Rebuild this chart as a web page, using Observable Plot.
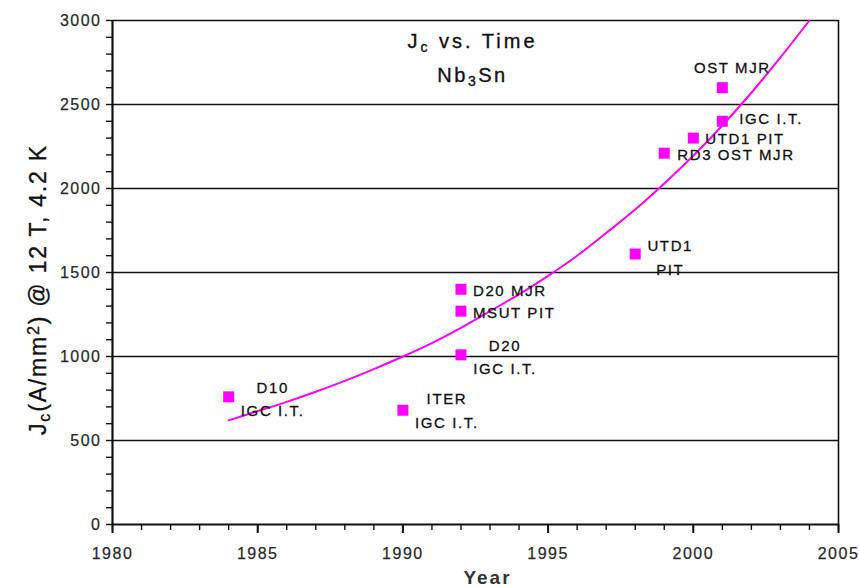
<!DOCTYPE html>
<html><head><meta charset="utf-8">
<script src="https://cdn.jsdelivr.net/npm/d3@7"></script>
<script src="https://cdn.jsdelivr.net/npm/@observablehq/plot@0.6"></script>
<style>body{margin:0;background:#fff;} svg{display:block;}</style>
</head><body><div id="chart"></div>
<script>
// Data
const years = [1984, 1990, 1992, 1992, 1992, 1998, 1999, 2000, 2001, 2001];
const jc = [760, 680, 1400, 1270, 1010, 1610, 2210, 2300, 2400, 2600];
const names = ["D10\nIGC I.T.", "ITER\nIGC I.T.", "D20 MJR", "MSUT PIT", "D20\nIGC I.T.", "UTD1\nPIT", "RD3 OST MJR", "UTD1 PIT", "IGC I.T.", "OST MJR"];
const trendYears = [1984,1985,1986,1987,1988,1989,1990,1991,1992,1993,1994,1995,1996,1997,1998,1999,2000,2001,2002,2003,2004];
const trendJc = [620,675,730,790,855,925,1000,1080,1170,1270,1370,1480,1600,1735,1875,2030,2195,2375,2570,2780,3000];
const xTicks = [1980, 1985, 1990, 1995, 2000, 2005];
const yTicks = [0, 500, 1000, 1500, 2000, 2500, 3000];
const gridLines = [500, 1000, 1500, 2000, 2500, 3000];
const titleText = "Jc vs. Time";
const subtitleText = "Nb3Sn";
const yLabelText = "Jc(A/mm2) @ 12 T, 4.2 K";
const xLabelText = "Year";

// Label layout (pixel offsets from each point), kept apart from the data
const labelDx = [44, 44, 12, 12, 44, 35, 13, 12, 17, 10];
const labelDy = [0, -2, -1, -1, 0, 1, -1, -2, -5, -22];
const labelAnchor = ["middle", "middle", "start", "start", "middle", "middle", "start", "start", "start", "middle"];

const points = years.map((y, i) => ({year: y, jc: jc[i], name: names[i], dx: labelDx[i], dy: labelDy[i], anchor: labelAnchor[i]}));
const trend = trendYears.map((y, i) => ({year: y, jc: trendJc[i]}));

const minorX = d3.range(1980, 2006, 1);
const minorY = d3.range(0, 3001, 100);
const font = "Liberation Sans, Arial, sans-serif";
const ink = "#111";

const plot = Plot.plot({
  width: 859, height: 587,
  marginLeft: 112, marginRight: 21, marginTop: 20, marginBottom: 63,
  style: {fontFamily: font, background: "#fff", color: ink},
  x: {domain: [1980, 2005]},
  y: {domain: [0, 3000]},
  marks: [
    Plot.ruleY(gridLines, {stroke: "#111", strokeWidth: 1.6}),
    Plot.ruleX([2005], {stroke: "#111", strokeWidth: 1.6}),
    Plot.axisY(minorY, {tickSize: 6, tickFormat: () => "", label: null, stroke: "#111", strokeWidth: 1.4}),
    Plot.axisY(yTicks, {tickSize: 6, tickPadding: 5, fontSize: 16, fill: "#2a2a2a", label: null, tickFormat: d => String(d)}),
    Plot.axisX(minorX, {tickSize: 6, tickFormat: () => "", label: null, stroke: "#111", strokeWidth: 1.4}),
    Plot.axisX(xTicks, {tickSize: 9, tickPadding: 14, fontSize: 16, fill: "#2a2a2a", label: null, tickFormat: d => String(d), strokeWidth: 2}),
    Plot.ruleX([1980], {stroke: "#111", strokeWidth: 2.2}),
    Plot.ruleY([0], {stroke: "#111", strokeWidth: 2.2}),
    Plot.line(trend, {x: "year", y: "jc", stroke: "#ff00ff", strokeWidth: 2, curve: "natural"}),
    Plot.dot(points, {x: "year", y: "jc", symbol: "square", r: 6.2, fill: "#ff00ff", stroke: "none"}),
    ...points.map(p => Plot.text([p], {
      x: "year", y: "jc", text: "name", textAnchor: p.anchor, lineAnchor: "middle",
      dx: p.dx, dy: p.dy, lineHeight: 1.6, fontSize: 15, fill: ink
    })),
    Plot.text([titleText], {frameAnchor: "top", text: d => d, dx: -3, dy: 21, fontSize: 20, fill: ink, lineAnchor: "middle"}),
    Plot.text([subtitleText], {frameAnchor: "top", text: d => d, dx: -3, dy: 55, fontSize: 20, fill: ink, lineAnchor: "middle"}),
    Plot.text([yLabelText], {frameAnchor: "left", textAnchor: "middle", text: d => d, dx: -74, dy: 17, rotate: -90, fontSize: 23, fill: ink, lineAnchor: "middle"}),
    Plot.text([xLabelText], {frameAnchor: "bottom", text: d => d, dy: 53, dx: 12, fontSize: 19, fontWeight: "bold", fill: "#333", lineAnchor: "middle"})
  ]
});

// letter spacing and slight weight to match the reference's wide-set, soft text
const svgSel = d3.select(plot);
svgSel.selectAll("g[aria-label='y-axis tick label'], g[aria-label='x-axis tick label']")
  .attr("letter-spacing", "1.5px").attr("stroke", "#2a2a2a").attr("stroke-width", 0.25);
svgSel.selectAll("g[aria-label='text']").filter(function () { return this.getAttribute("font-size") === "15"; })
  .attr("letter-spacing", "1.6px").attr("stroke", ink).attr("stroke-width", 0.3);

function rich(svg, plain, parts, spacing) {
  d3.select(svg).selectAll("text").filter(function () { return this.textContent === plain; }).each(function () {
    const t = d3.select(this);
    t.text(null).attr("letter-spacing", spacing).attr("stroke", ink).attr("stroke-width", 0.35);
    for (const [s, kind] of parts) {
      const ts = t.append("tspan").text(s);
      if (kind === "sub") ts.attr("baseline-shift", "-25%").attr("font-size", "70%");
      if (kind === "sup") ts.attr("baseline-shift", "45%").attr("font-size", "70%");
    }
  });
}
rich(plot, titleText, [["J"], ["c", "sub"], [" vs. Time"]], "3px");
rich(plot, subtitleText, [["Nb"], ["3", "sub"], ["Sn"]], "2.5px");
rich(plot, yLabelText, [["J"], ["c", "sub"], ["(A/mm"], ["2", "sup"], [") @ 12 T, 4.2 K"]], "1.8px");
svgSel.selectAll("text").filter(function () { return this.textContent === xLabelText; }).attr("letter-spacing", "2px");

document.getElementById("chart").appendChild(plot);
</script>
</body></html>
